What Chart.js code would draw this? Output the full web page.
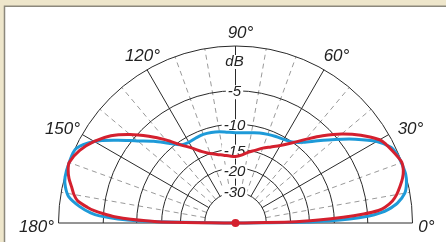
<!DOCTYPE html>
<html lang="en">
<head>
<meta charset="UTF-8">
<title>Polar diagram</title>
<script src="https://cdn.jsdelivr.net/npm/chart.js"></script>
<style>
    html, body { margin: 0; padding: 0; background: #eee6cb; }
    #wrap { width: 446px; height: 242px; }
</style>
</head>
<body>
<div id="wrap"><canvas id="polar" width="446" height="242"></canvas></div>
<script>
// elevation angles (deg) and levels (dB)
const redAngles = [0, 1, 2, 3, 4, 5, 6, 8, 10, 12.5, 15, 17.5, 20, 22.5, 25, 27.5, 30, 35, 40, 45, 50, 55, 60, 65, 70, 75, 80, 85, 90,
    95, 100, 105, 110, 115, 120, 125, 130, 135, 140, 145, 150, 155, 160, 162.5, 165, 167.5, 170, 172, 174, 175, 176, 177, 178, 179, 180];
const redDb = [-80, -20, -13, -8.5, -5.5, -3.6, -2.8, -1.9, -1.35, -0.85, -0.4, -0.1, 0, -0.2, -0.45, -0.7, -1.05, -2.5, -4.2, -6.2, -8.3, -10.2, -11.7, -12.8, -13.7, -14.7, -15.5, -16.4, -16.8,
    -16.6, -16.2, -15.7, -15, -13.9, -12.3, -10.6, -8.4, -6.3, -4.3, -2.6, -1.4, -0.5, 0, -0.15, -0.45, -0.9, -1.3, -1.8, -3.0, -3.8, -5, -6.5, -9, -14, -80];

const blueAngles = [0, 1, 2, 3, 4, 5, 7, 10, 13, 16, 20, 23, 26, 30, 35, 40, 45, 50, 55, 60, 65, 70, 75, 80, 85, 90,
    95, 100, 105, 110, 115, 120, 125, 130, 135, 140, 145, 150, 155, 160, 165, 168, 171, 174, 176, 177, 178, 179, 180];
const blueDb = [-80, -14, -7.5, -4.8, -3.4, -2.5, -1.4, -0.5, -0.15, 0, -0.05, -0.15, -0.4, -1.4, -3.3, -5.3, -7.2, -8.9, -10.0, -10.4, -10.6, -10.8, -11.0, -11.3, -11.5, -11.55,
    -11.4, -11.1, -10.9, -10.8, -10.9, -11.0, -10.6, -9.1, -7.3, -5.6, -3.5, -1.4, -0.1, 0, -0.05, -0.3, -0.8, -2.1, -3.4, -4.5, -7, -13, -80];

// grid
const ringDb = [0, -5, -10, -15, -20, -30];
const ringLabels = ['-5', '-10', '-15', '-20', '-30'];
const unitLabel = 'dB';
const mainSpokes = [30, 60, 120, 150];
const minorSpokes = [10, 20, 40, 50, 70, 80, 100, 110, 130, 140, 160, 170];
const angleLabels = ['0°', '30°', '60°', '90°', '120°', '150°', '180°'];

// ARRL log-periodic scale: radius shrinks to 0.89 every 2 dB
function radius(db) { return Math.pow(0.89, -db / 2); }
function toXY(deg, db) {
    const r = radius(db), a = deg * Math.PI / 180;
    return { x: r * Math.cos(a), y: r * Math.sin(a) };
}

const redPts = redAngles.map((a, i) => toXY(a, redDb[i]));
const bluePts = blueAngles.map((a, i) => toXY(a, blueDb[i]));

const gridPlugin = {
    id: 'polarGrid',
    beforeDraw(chart) {
        const c = chart.ctx;
        c.save();
        c.fillStyle = '#eee6cb';
        c.fillRect(0, 0, chart.width, chart.height);
        c.fillStyle = '#ffffff';
        c.fillRect(4, 6, chart.width - 4, chart.height - 6);
        c.strokeStyle = '#8c887c';
        c.lineWidth = 1.5;
        c.beginPath();
        c.moveTo(4.5, chart.height);
        c.lineTo(4.5, 6.2);
        c.lineTo(chart.width, 6.2);
        c.stroke();
        c.restore();
    },
    beforeDatasetsDraw(chart) {
        const c = chart.ctx;
        const xs = chart.scales.x, ys = chart.scales.y;
        const cx = xs.getPixelForValue(0), cy = ys.getPixelForValue(0);
        const rp = db => xs.getPixelForValue(radius(db)) - cx;
        const pt = (deg, db) => {
            const p = toXY(deg, db);
            return [xs.getPixelForValue(p.x), ys.getPixelForValue(p.y)];
        };
        const rIn = ringDb[ringDb.length - 1], rOut = ringDb[0];
        c.save();

        // dashed minor spokes
        c.strokeStyle = '#9a9a9a';
        c.lineWidth = 1;
        c.setLineDash([5, 4]);
        minorSpokes.forEach(a => {
            const p0 = pt(a, rIn), p1 = pt(a, rOut);
            c.beginPath(); c.moveTo(p0[0], p0[1]); c.lineTo(p1[0], p1[1]); c.stroke();
        });
        c.setLineDash([]);

        // rings
        c.strokeStyle = '#2a2a2a';
        c.lineWidth = 1;
        ringDb.forEach(db => {
            c.beginPath();
            c.arc(cx, cy, rp(db), Math.PI, 2 * Math.PI);
            c.stroke();
        });

        // main spokes, vertical and base line
        mainSpokes.concat([90]).forEach(a => {
            const p0 = pt(a, rIn), p1 = pt(a, rOut);
            c.beginPath(); c.moveTo(p0[0], p0[1]); c.lineTo(p1[0], p1[1]); c.stroke();
        });
        c.beginPath();
        c.moveTo(cx - rp(0), cy); c.lineTo(cx + rp(0), cy);
        c.stroke();

        // dB labels on the vertical (small nudges as in the original)
        c.font = 'italic 15px "Liberation Sans", Arial, sans-serif';
        c.textAlign = 'center';
        c.textBaseline = 'middle';
        const lx = cx - 1;
        const nudge = [1.5, 2, 2.5, 3.8, 0.5];
        const dbLabels = [[unitLabel, cy - 161]].concat(ringLabels.map((t, i) => [t, cy - rp(ringDb[i + 1]) + nudge[i]]));
        dbLabels.forEach(([t, y]) => {
            const w = c.measureText(t).width;
            c.fillStyle = '#ffffff';
            c.fillRect(lx - w / 2 - 2, y - 7, w + 4, 14);
            c.fillStyle = '#222222';
            c.fillText(t, lx, y);
        });

        // angle labels
        c.font = 'italic 17px "Liberation Sans", Arial, sans-serif';
        const spots = [[cx + 191, cy + 4], [cx + 175, cy - 94], [cx + 101, cy - 167], [cx + 5, cy - 190],
                       [cx - 93, cy - 167], [cx - 173, cy - 94], [cx - 199, cy + 4]];
        c.fillStyle = '#222222';
        angleLabels.forEach((t, i) => c.fillText(t, spots[i][0], spots[i][1]));
        c.restore();
    }
};

const ctx = document.getElementById('polar').getContext('2d');
new Chart(ctx, {
    type: 'scatter',
    data: {
        datasets: [
            {
                label: 'centre',
                data: [{ x: 0, y: 0 }],
                pointRadius: 4,
                pointBackgroundColor: '#d4202e',
                pointBorderWidth: 0,
                showLine: false
            },
            {
                label: 'red',
                data: redPts,
                showLine: true,
                borderColor: '#d4202e',
                borderWidth: 3,
                pointRadius: 0,
                tension: 0.3,
                fill: false
            },
            {
                label: 'blue',
                data: bluePts,
                showLine: true,
                borderColor: '#1e9ad8',
                borderWidth: 3,
                pointRadius: 0,
                tension: 0.3,
                fill: false
            }
        ]
    },
    options: {
        responsive: false,
        animation: false,
        events: [],
        layout: { padding: 0, autoPadding: false },
        plugins: { legend: { display: false }, tooltip: { enabled: false } },
        scales: {
            x: { type: 'linear', display: false, min: -235.5 / 177, max: 210.5 / 177 },
            y: { type: 'linear', display: false, min: -19 / 177, max: 223 / 177 }
        }
    },
    plugins: [gridPlugin]
});
</script>
</body>
</html>
